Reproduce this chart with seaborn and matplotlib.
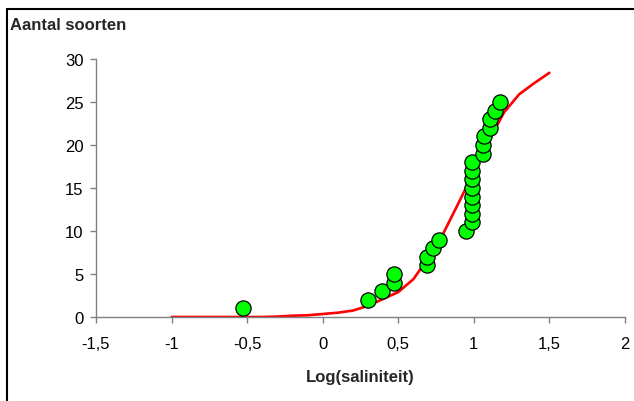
import matplotlib
matplotlib.use("Agg")
import matplotlib.pyplot as plt
import seaborn as sns
import pandas as pd
from matplotlib.lines import Line2D

# observed species counts vs log(salinity)
log_sal = [-0.53, 0.30, 0.39, 0.47, 0.47, 0.69, 0.69, 0.73, 0.77, 0.95,
           0.99, 0.99, 0.99, 0.99, 0.99, 0.99, 0.99, 0.99,
           1.06, 1.06, 1.07, 1.11, 1.11, 1.14, 1.17]
n_species = [1, 2, 3, 4, 5, 6, 7, 8, 9, 10,
             11, 12, 13, 14, 15, 16, 17, 18,
             19, 20, 21, 22, 23, 24, 25]

# fitted curve
fit_x = [-1.0, -0.9, -0.8, -0.7, -0.6, -0.5, -0.4, -0.3, -0.2, -0.1, 0.0,
         0.1, 0.2, 0.3, 0.4, 0.5, 0.6, 0.7, 0.8, 0.9, 1.0, 1.1, 1.2, 1.3, 1.4, 1.5]
fit_y = [0.0, 0.0, 0.0, 0.0, 0.0, 0.0, 0.0, 0.05, 0.15, 0.2, 0.35,
         0.5, 0.75, 1.3, 2.1, 2.9, 4.4, 6.9, 9.8, 13.3, 16.9, 20.5, 23.8, 25.9, 27.2, 28.4]

x_ticks = [-1.5, -1.0, -0.5, 0.0, 0.5, 1.0, 1.5, 2.0]
x_labels = ["-1,5", "-1", "-0,5", "0", "0,5", "1", "1,5", "2"]
y_ticks = [0, 5, 10, 15, 20, 25, 30]

obs = pd.DataFrame({"x": log_sal, "y": n_species})
fit = pd.DataFrame({"x": fit_x, "y": fit_y})

sns.set_style("white")
plt.rcParams["font.family"] = ["Liberation Sans", "DejaVu Sans"]

fig = plt.figure(figsize=(6.34, 4.02), dpi=100)
ax = fig.add_axes([96 / 634, 1 - 318 / 402, 529 / 634, 258 / 402])

sns.lineplot(data=fit, x="x", y="y", ax=ax, color="#FF0000", linewidth=1.9,
             estimator=None, sort=False, zorder=2)
sns.scatterplot(data=obs, x="x", y="y", ax=ax, color="#00FF00", edgecolor="black",
                linewidth=0.9, s=120, zorder=3, clip_on=False)

ax.set_xlim(-1.5, 2.0)
ax.set_ylim(0, 30)
ax.set_xticks(x_ticks)
ax.set_xticklabels(x_labels)
ax.set_yticks(y_ticks)
ax.tick_params(axis="both", labelsize=12, colors="black", length=4, width=1,
               direction="out", color="#808080")
ax.tick_params(axis="x", pad=10)
ax.tick_params(axis="y", pad=5)
ax.tick_params(axis="both", which="both", bottom=True, left=True)

for side in ["top", "right"]:
    ax.spines[side].set_visible(False)
for side in ["left", "bottom"]:
    ax.spines[side].set_color("#808080")
    ax.spines[side].set_linewidth(1)

ax.set_xlabel("Log(saliniteit)", fontsize=12, fontweight="bold", labelpad=13)
ax.set_ylabel("")
fig.text(10 / 634, 1 - 26 / 402, "Aantal soorten", fontsize=12, fontweight="bold",
         va="center", ha="left")

# outer frame (top and left only, as in the reference crop)
fig.add_artist(Line2D([7 / 634, 7 / 634], [0, 1 - 10 / 402], color="black",
                      linewidth=1.5, transform=fig.transFigure))
fig.add_artist(Line2D([7 / 634, 1], [1 - 10 / 402, 1 - 10 / 402], color="black",
                      linewidth=1.5, transform=fig.transFigure))

fig.savefig("out.png", dpi=100)
